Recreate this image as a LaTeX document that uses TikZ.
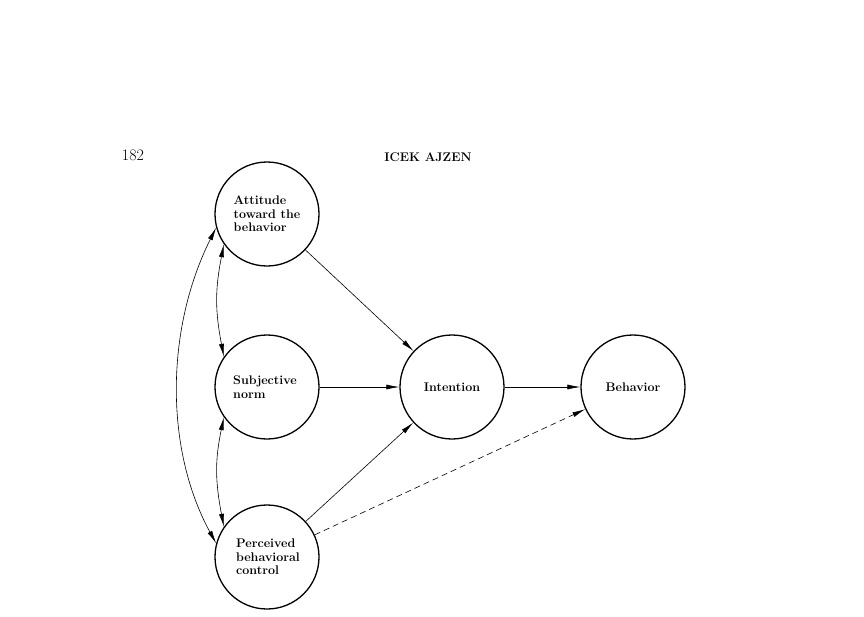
\documentclass[tikz,border=0pt]{standalone}
\usetikzlibrary{arrows.meta}
\begin{document}
\begin{tikzpicture}[x=1pt,y=-1pt,
  st/.style={circle,draw,line width=1.3pt,minimum size=104pt,inner sep=0pt},
  lb/.style={align=left,font=\fontsize{12.5}{13.5}\selectfont\bfseries},
  ar/.style={-{Latex[length=13pt,width=5pt]},line width=0.6pt},
  dar/.style={{Latex[length=13pt,width=5pt]}-{Latex[length=13pt,width=5pt]},line width=0.6pt}]
\useasboundingbox (0,0) rectangle (864,616);
\node[font=\fontsize{16}{17}\selectfont] (pg) at (133,155) {182};
\node[font=\fontsize{12.5}{13}\selectfont\bfseries] (hd) at (428,157) {ICEK AJZEN};
\node[st] (att) at (267,214) {};
\node[lb] at (267,214) {Attitude\\toward the\\behavior};
\node[st] (sub) at (267,387) {};
\node[lb] at (265,387) {Subjective\\norm};
\node[st] (per) at (267,557) {};
\node[lb] at (268,557) {Perceived\\behavioral\\control};
\node[st] (int) at (452,387) {};
\node[lb] at (452,387) {Intention};
\node[st] (beh) at (633,387) {};
\node[lb] at (633,387) {Behavior};
\draw[ar] (att) -- (int);
\draw[ar] (sub) -- (int);
\draw[ar] (per) -- (int);
\draw[ar] (int) -- (beh);
\draw[ar,dashed,dash pattern=on 6pt off 4pt] (per) -- (beh);
\draw[dar] (att.215) .. controls (215,290) and (215,310) .. (sub.145);
\draw[dar] (sub.215) .. controls (215,460) and (215,480) .. (per.145);
\draw[dar] (att.195) .. controls (165,330) and (165,450) .. (per.165);
\end{tikzpicture}
\end{document}
